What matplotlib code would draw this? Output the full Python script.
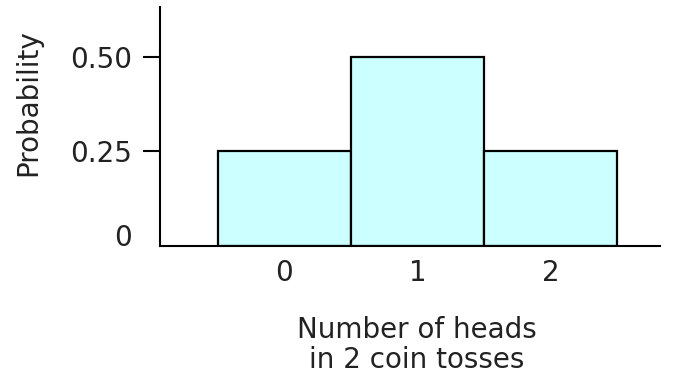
import matplotlib.pyplot as plt

# data
heads = [0, 1, 2]
probability = [0.25, 0.50, 0.25]
ytick_values = [0, 0.25, 0.50]
ytick_labels = ["0", "0.25", "0.50"]

plt.rcParams['font.family'] = ['DejaVu Sans']
text_color = "#222222"
fsize = 20

fig = plt.figure(figsize=(6.95, 3.81), dpi=100)
ax = fig.add_axes([0.230, 0.354, 0.720, 0.628])

ax.bar(heads, probability, width=1.0, color="#ccffff",
       edgecolor="black", linewidth=1.6, zorder=2)

ax.set_xlim(-0.936, 2.823)
ax.set_ylim(0, 0.632)

# spines
for side in ("top", "right"):
    ax.spines[side].set_visible(False)
for side in ("left", "bottom"):
    ax.spines[side].set_linewidth(1.5)
    ax.spines[side].set_zorder(3)

# ticks
ax.set_xticks(heads)
ax.set_xticklabels([str(h) for h in heads])
ax.tick_params(axis="x", length=0, pad=9, labelsize=fsize,
               labelcolor=text_color)
ax.set_yticks(ytick_values)
ax.set_yticklabels(ytick_labels)
ax.tick_params(axis="y", length=12, width=1.5, pad=8, labelsize=fsize,
               labelcolor=text_color)
ax.yaxis.get_major_ticks()[0].tick1line.set_visible(False)
ax.get_yticklabels()[0].set_va("baseline")

# labels
ax.set_xlabel("Number of heads\nin 2 coin tosses", fontsize=fsize,
              color=text_color, linespacing=1.1)
ax.xaxis.set_label_coords(0.514, -0.29)
ax.set_ylabel("Probability", fontsize=fsize, color=text_color)
ax.yaxis.set_label_coords(-0.235, 0.60)

fig.savefig("out.png", dpi=100)
